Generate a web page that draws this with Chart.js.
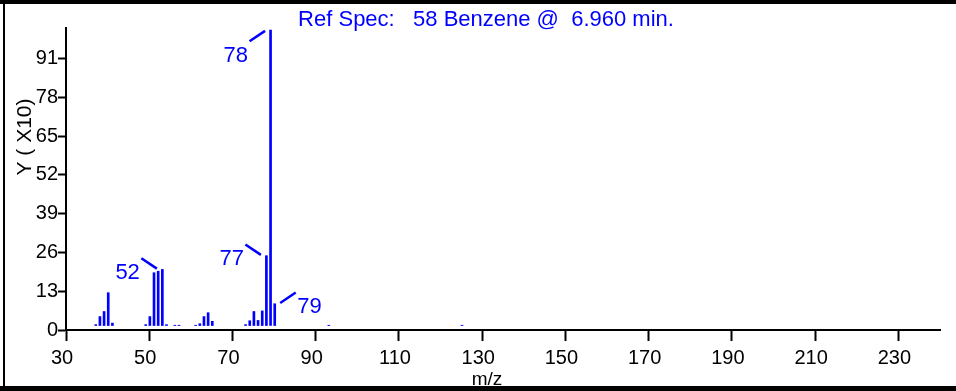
<!DOCTYPE html>
<html lang="en">
<head>
    <meta charset="UTF-8">
    <title>Ref Spec: 58 Benzene</title>
    <script src="https://cdn.jsdelivr.net/npm/chart.js"></script>
    <style>
        body { margin: 0; background: white; }
    </style>
</head>
<body>
    <canvas id="myChart" width="956" height="391"></canvas>
    <script>
        const masas = [36, 37, 38, 39, 40, 48, 49, 50, 51, 52, 53, 55, 56,
            60, 61, 62, 63, 64, 72, 73, 74, 75, 76, 77, 78, 79, 92, 124];
        const abundancias = [1.8, 4.5, 6.2, 12.5, 2.3, 1.8, 4.5, 19.2, 19.7, 20.3, 1.8, 1.6, 1.6,
            1.6, 2.1, 4.5, 5.8, 2.9, 1.8, 3.1, 6.2, 3.2, 6.4, 24.9, 100.5, 8.8, 1.6, 1.6];
        const etiquetas = [52, 77, 78, 79];
        const ticksX = [30, 50, 70, 90, 110, 130, 150, 170, 190, 210, 230];
        const ticksY = [0, 13, 26, 39, 52, 65, 78, 91];
        const titulo = 'Ref Spec:   58 Benzene @  6.960 min.';

        const AZUL = '#0000ff';
        const FUENTE = '"Liberation Sans", Arial, sans-serif';
        // el programa original dibuja las barras algo corridas respecto a los ticks
        const DESFASE_X = 1.15;
        const BASE_BARRA = 1.5;

        // hacia donde sale la raya de cada etiqueta
        const lados = { 52: [-1, -1], 77: [-1, -1], 78: [-1, 1], 79: [1, -1] };

        const textos = {
            id: 'textos',
            beforeDraw(chart) {
                const c = chart.ctx;
                c.save();
                c.fillStyle = 'white';
                c.fillRect(0, 0, chart.width, chart.height);
                c.restore();
            },
            afterDraw(chart) {
                const c = chart.ctx;
                const x = chart.scales.x, y = chart.scales.y;
                c.save();
                c.fillStyle = AZUL;
                c.font = '22px ' + FUENTE;
                c.textAlign = 'center';
                c.textBaseline = 'middle';
                c.fillText(titulo, 486, 20);

                // etiquetas de los picos
                c.strokeStyle = AZUL;
                c.lineWidth = 2.5;
                c.font = '22px ' + FUENTE;
                etiquetas.forEach((m) => {
                    const i = masas.indexOf(m);
                    const px = x.getPixelForValue(m + DESFASE_X);
                    const top = y.getPixelForValue(abundancias[i]);
                    const [sx, sy] = lados[m];
                    const x0 = px + sx * 5.5, y0 = top + sy * 0.8;
                    const x1 = px + sx * 21, y1 = top + sy * 11.2;
                    c.beginPath();
                    c.moveTo(x0, y0);
                    c.lineTo(x1, y1);
                    c.stroke();
                    c.textAlign = sx < 0 ? 'right' : 'left';
                    c.fillText(String(m), x1 + sx * 1.5, y1 + 14.5);
                });

                // titulos de los ejes
                c.fillStyle = 'black';
                c.font = '19px ' + FUENTE;
                c.textAlign = 'center';
                c.fillText('m/z', 487, 380);
                c.save();
                c.translate(25, 137);
                c.rotate(-Math.PI / 2);
                c.font = '21px ' + FUENTE;
                c.fillText('Y ( X10)', 0, 0);
                c.restore();

                // marco
                c.fillStyle = 'black';
                c.fillRect(0, 0, chart.width, 4);
                c.fillRect(3, 0, 2, chart.height);
                c.fillRect(0, 386, chart.width, 5);
                c.restore();
            }
        };

        const datos = masas.map((m, i) => ({ x: m + DESFASE_X, y: abundancias[i] }));

        const config = {
            type: 'bar',
            data: {
                datasets: [{
                    data: datos,
                    backgroundColor: AZUL,
                    barThickness: 2,
                    base: BASE_BARRA
                }]
            },
            options: {
                responsive: false,
                animation: false,
                devicePixelRatio: 1,
                layout: { padding: { top: 28, right: 16, left: 0, bottom: 0 } },
                plugins: {
                    legend: { display: false },
                    tooltip: { enabled: false }
                },
                scales: {
                    x: {
                        type: 'linear',
                        min: 30,
                        max: 240,
                        offset: false,
                        afterBuildTicks: (s) => { s.ticks = ticksX.map((v) => ({ value: v })); },
                        afterFit: (s) => { s.height = 61; },
                        ticks: { color: 'black', font: { size: 20, family: FUENTE }, padding: 5, maxRotation: 0, labelOffset: -4 },
                        grid: { offset: false, drawOnChartArea: false, color: 'black', tickLength: 11, tickWidth: 2 },
                        border: { color: 'black', width: 2 }
                    },
                    y: {
                        min: 0,
                        max: 101.2,
                        afterBuildTicks: (s) => { s.ticks = ticksY.map((v) => ({ value: v })); },
                        afterFit: (s) => { s.width = 66; },
                        ticks: { color: 'black', font: { size: 20, family: FUENTE }, padding: 0 },
                        grid: { drawOnChartArea: false, color: 'black', tickLength: 8, tickWidth: 2 },
                        border: { color: 'black', width: 2 }
                    }
                }
            },
            plugins: [textos]
        };

        new Chart(document.getElementById('myChart'), config);
    </script>
</body>
</html>
